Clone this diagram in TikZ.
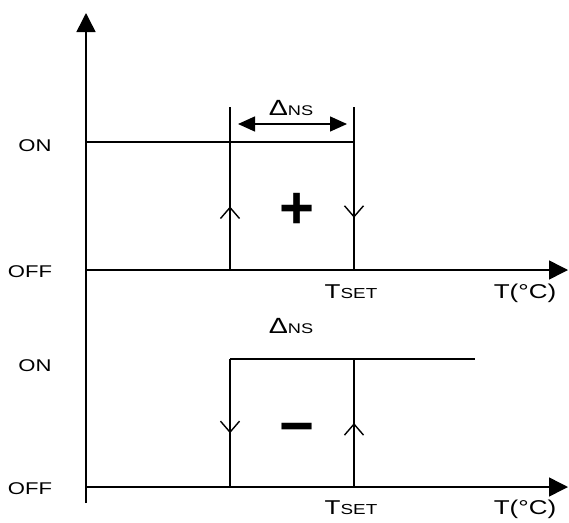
\documentclass[tikz,border=0pt]{standalone}
\usepackage{fontspec}
\setmainfont{Liberation Sans}[FakeStretch=1.3]
\newfontfamily\signfont{Liberation Sans}
\usetikzlibrary{arrows.meta,decorations.markings}

\newcommand{\dns}{{\fontsize{22}{24}\selectfont Δ\fontsize{14}{16}\selectfont NS}}
\newcommand{\tset}{{\fontsize{20}{22}\selectfont T\fontsize{14.5}{16}\selectfont SET}}

\begin{document}
\begin{tikzpicture}
      [%%%%%%%%%%%%%%%%%%%%%%%%%%%%%%
      x=1pt, y=-1pt,
      axis/.style={line width=1.5pt, -{Triangle[length=19pt,width=19pt]}},
      trace/.style={line width=1.4pt},
      span/.style={line width=1.4pt, {Triangle[length=17pt,width=15pt]}-{Triangle[length=17pt,width=15pt]}, shorten <=8pt, shorten >=7pt},
      chev/.style={trace, postaction={decorate}, decoration={markings,
        mark=at position #1 with {\arrow{Straight Barb[length=11pt,width=19pt,line width=1.4pt]}}}},
      lbl/.style={inner sep=0pt, anchor=base, font=\fontsize{17}{19}\selectfont},
      sign/.style={inner sep=0pt, anchor=base, font=\signfont\bfseries\fontsize{60}{60}\selectfont},
      ]%%%%%%%%%%%%%%%%%%%%%%%%%%%%%%
      \useasboundingbox (0,0) rectangle (569,522);

      % axes
      \coordinate (ybot) at (86,503);
      \coordinate (ytop) at (86,13);
      \coordinate (offa) at (86,270);
      \coordinate (offaend) at (568,270);
      \coordinate (offb) at (86,487);
      \coordinate (offbend) at (568,487);
      \draw[axis] (ybot) -- (ytop);
      \draw[axis] (offa) -- (offaend);
      \draw[axis] (offb) -- (offbend);

      % upper loop (+)
      \coordinate (ona) at (86,142);
      \coordinate (onaend) at (354,142);
      \coordinate (lta) at (230,107);
      \coordinate (lba) at (230,270);
      \coordinate (rta) at (354,107);
      \coordinate (rba) at (354,270);
      \draw[trace] (ona) -- (onaend);
      \draw[chev=0.39] (lba) -- (lta);
      \draw[chev=0.68] (rta) -- (rba);
      \coordinate (spl) at (230,124);
      \coordinate (spr) at (354,124);
      \draw[span] (spl) -- (spr);

      % lower loop (-)
      \coordinate (onb) at (230,359);
      \coordinate (onbend) at (475,359);
      \coordinate (rtb) at (354,359);
      \coordinate (lbb) at (230,487);
      \coordinate (rbb) at (354,487);
      \draw[chev=0.58] (onb) -- (lbb);
      \draw[trace] (onb) -- (onbend);
      \draw[chev=0.5] (rbb) -- (rtb);

      % labels
      \node[lbl] (onalbl) at (35,151) {ON};
      \node[lbl] (offalbl) at (30,277) {OFF};
      \node[lbl] (onblbl) at (35,371) {ON};
      \node[lbl] (offblbl) at (30,494) {OFF};
      \node[lbl] (dnsa) at (291,115) {\dns};
      \node[lbl] (dnsb) at (291,333) {\dns};
      \node[lbl] (tseta) at (351,298) {\tset};
      \node[lbl] (tsetb) at (351,514) {\tset};
      \node[lbl,font=\fontsize{20}{22}\selectfont] (tempa) at (525,298) {T(°C)};
      \node[lbl,font=\fontsize{20}{22}\selectfont] (tempb) at (525,514) {T(°C)};
      \node[sign] (plus) at (297,228) {+};
      \node[sign] (minus) at (297,446) {−};
    \end{tikzpicture}
\end{document}
